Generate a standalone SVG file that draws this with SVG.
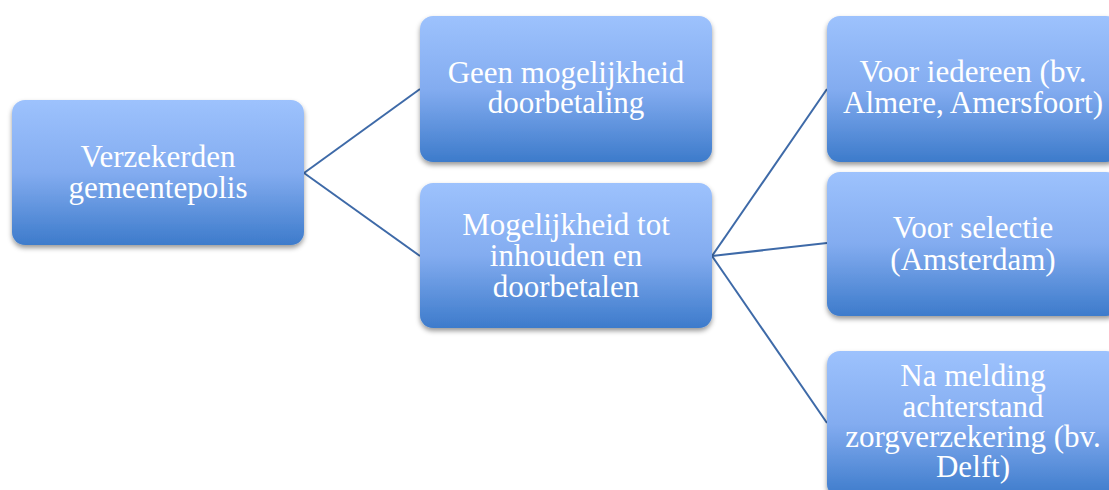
<svg xmlns="http://www.w3.org/2000/svg" width="1109" height="490" viewBox="0 0 1109 490">
<defs>
<linearGradient id="g" x1="0" y1="0" x2="0" y2="1">
<stop offset="0" stop-color="#9dc2fd"/>
<stop offset="0.5" stop-color="#83acf0"/>
<stop offset="1" stop-color="#3d7bcb"/>
</linearGradient>
<filter id="sh" x="-10%" y="-10%" width="120%" height="130%">
<feDropShadow dx="0" dy="3" stdDeviation="2.5" flood-color="#000" flood-opacity="0.4"/>
</filter>
</defs>
<style>
.box{fill:url(#g);filter:url(#sh)}
.t{font-family:"Liberation Serif","Times New Roman",serif;font-size:31px;fill:#ffffff;text-anchor:middle}
.c{stroke:#3e6aa8;stroke-width:2;fill:none}
</style>
<rect width="1109" height="490" fill="#ffffff"/>
<g id="connectors">
<line class="c" x1="304" y1="173" x2="420" y2="89"/>
<line class="c" x1="304" y1="173" x2="420" y2="256"/>
<line class="c" x1="712" y1="256" x2="827" y2="89"/>
<line class="c" x1="712" y1="256" x2="827" y2="243"/>
<line class="c" x1="712" y1="256" x2="827" y2="423"/>
</g>
<g id="n1">
<rect class="box" x="12" y="100" width="292" height="145" rx="13"/>
<text class="t"><tspan x="158" y="167">Verzekerden</tspan><tspan x="158" y="198">gemeentepolis</tspan></text>
</g>
<g id="n2">
<rect class="box" x="420" y="16" width="292" height="146" rx="13"/>
<text class="t"><tspan x="566" y="83">Geen mogelijkheid</tspan><tspan x="566" y="113">doorbetaling</tspan></text>
</g>
<g id="n3">
<rect class="box" x="420" y="183" width="292" height="145" rx="13"/>
<text class="t"><tspan x="566" y="235">Mogelijkheid tot</tspan><tspan x="566" y="266">inhouden en</tspan><tspan x="566" y="297">doorbetalen</tspan></text>
</g>
<g id="n4">
<rect class="box" x="827" y="16" width="292" height="146" rx="13"/>
<text class="t"><tspan x="973" y="82">Voor iedereen (bv.</tspan><tspan x="973" y="113">Almere, Amersfoort)</tspan></text>
</g>
<g id="n5">
<rect class="box" x="827" y="172" width="292" height="144" rx="13"/>
<text class="t"><tspan x="973" y="238">Voor selectie</tspan><tspan x="973" y="270">(Amsterdam)</tspan></text>
</g>
<g id="n6">
<rect class="box" x="827" y="351" width="292" height="146" rx="13"/>
<text class="t"><tspan x="973" y="386">Na melding</tspan><tspan x="973" y="417">achterstand</tspan><tspan x="973" y="447">zorgverzekering (bv.</tspan><tspan x="973" y="477">Delft)</tspan></text>
</g>
</svg>
